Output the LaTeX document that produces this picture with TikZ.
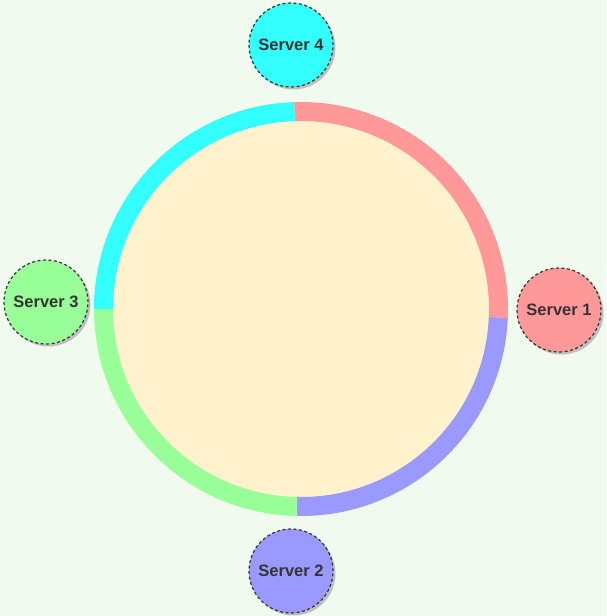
\documentclass[tikz,border=0pt]{standalone}
\usepackage{fontspec}
\setmainfont{Liberation Sans}
\usetikzlibrary{shadows}
\definecolor{bgc}{HTML}{F1FAEE}
\definecolor{cream}{HTML}{FFF2CC}
\definecolor{sred}{HTML}{FF9999}
\definecolor{sblue}{HTML}{9999FF}
\definecolor{sgreen}{HTML}{99FF99}
\definecolor{scyan}{HTML}{33FFFF}
\definecolor{txt}{HTML}{333333}
\tikzset{
  server/.style={circle, draw=txt, dash pattern=on 3pt off 2.5pt, line width=1.2pt, minimum size=84pt, inner sep=0pt,
    font=\fontsize{16.5}{19}\selectfont\bfseries, text=txt,
    drop shadow={shadow xshift=2.5pt, shadow yshift=-2.5pt, fill=black!30, opacity=0.8}},
  ringseg/.style={line width=19pt}
}
\begin{document}
\begin{tikzpicture}[x=1pt,y=1pt]
\fill[bgc] (0,0) rectangle (606,-616);
\useasboundingbox (0,0) rectangle (606,-616);
\coordinate (C) at (301,-309);
\fill[cream] (301.5,-308) circle[radius=190];
\draw[ringseg, sred]   (C) ++(91.9:197.5) arc[start angle=91.9, end angle=-2.5, radius=197.5];
\draw[ringseg, sblue]  (C) ++(-2.5:197.5) arc[start angle=-2.5, end angle=-91.2, radius=197.5];
\draw[ringseg, sgreen] (C) ++(-91.2:197.5) arc[start angle=-91.2, end angle=-180, radius=197.5];
\draw[ringseg, scyan]  (C) ++(180:197.5) arc[start angle=180, end angle=91.9, radius=197.5];
\node[server, fill=scyan]  (s4) at (291,-45)  {Server 4};
\node[server, fill=sred]   (s1) at (559,-310) {Server 1};
\node[server, fill=sgreen] (s3) at (46,-302)  {Server 3};
\node[server, fill=sblue]  (s2) at (291,-571) {Server 2};
\end{tikzpicture}
\end{document}
